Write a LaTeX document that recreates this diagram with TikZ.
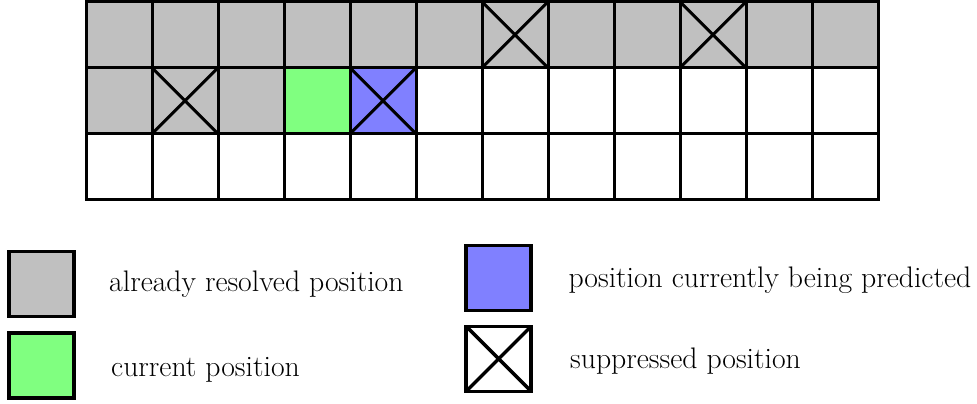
\documentclass[tikz,border=0pt]{standalone}
\definecolor{resolved}{HTML}{C0C0C0}
\definecolor{curpos}{HTML}{80FF80}
\definecolor{predpos}{HTML}{8080FF}
\begin{document}
\begin{tikzpicture}[x=1pt,y=-1pt,
  cell/.style={draw=black,line width=3pt,minimum size=66pt,inner sep=0pt,outer sep=0pt,fill=white},
  legbox/.style={draw=black,line width=3.5pt,minimum size=65pt,inner sep=0pt,outer sep=0pt},
  xline/.style={draw=black,line width=3pt},
  legtext/.style={anchor=base west,inner sep=0pt,font=\fontsize{29.7}{35}\selectfont}]
\useasboundingbox (0,0) rectangle (977,404);
% grid
\foreach \r in {0,1,2}{
  \foreach \c in {0,...,11}{
    \node[cell] (c-\r-\c) at ({119+66*\c},{34.7+66*\r}) {};
  }
}
% row 0: all resolved
\foreach \c in {0,...,11}{
  \node[cell,fill=resolved] (g-0-\c) at ({119+66*\c},34.7) {};
}
% row 1
\node[cell,fill=resolved] (g-1-0) at (119,100.7) {};
\node[cell,fill=resolved] (g-1-1) at (185,100.7) {};
\node[cell,fill=resolved] (g-1-2) at (251,100.7) {};
\node[cell,fill=curpos] (g-1-3) at (317,100.7) {};
\node[cell,fill=predpos] (g-1-4) at (383,100.7) {};
% crosses
\foreach \n in {g-0-6,g-0-9,g-1-1,g-1-4}{
  \draw[xline] (\n.north west) -- (\n.south east);
  \draw[xline] (\n.north east) -- (\n.south west);
}
% legend
\node[legbox,fill=resolved] (lg1) at (41.5,284) {};
\node[legbox,fill=curpos] (lg2) at (41.5,365.3) {};
\node[legbox,fill=predpos] (lg3) at (498.7,278) {};
\node[legbox,fill=white] (lg4) at (498.7,358.8) {};
\draw[xline,line width=3.5pt] (lg4.north west) -- (lg4.south east);
\draw[xline,line width=3.5pt] (lg4.north east) -- (lg4.south west);
\node[legtext] (t1) at (109,291.7) {already resolved position};
\node[legtext] (t2) at (111,376.7) {current position};
\node[legtext] (t3) at (568.3,287.7) {position currently being predicted};
\node[legtext] (t4) at (570,368.3) {suppressed position};
\end{tikzpicture}
\end{document}
